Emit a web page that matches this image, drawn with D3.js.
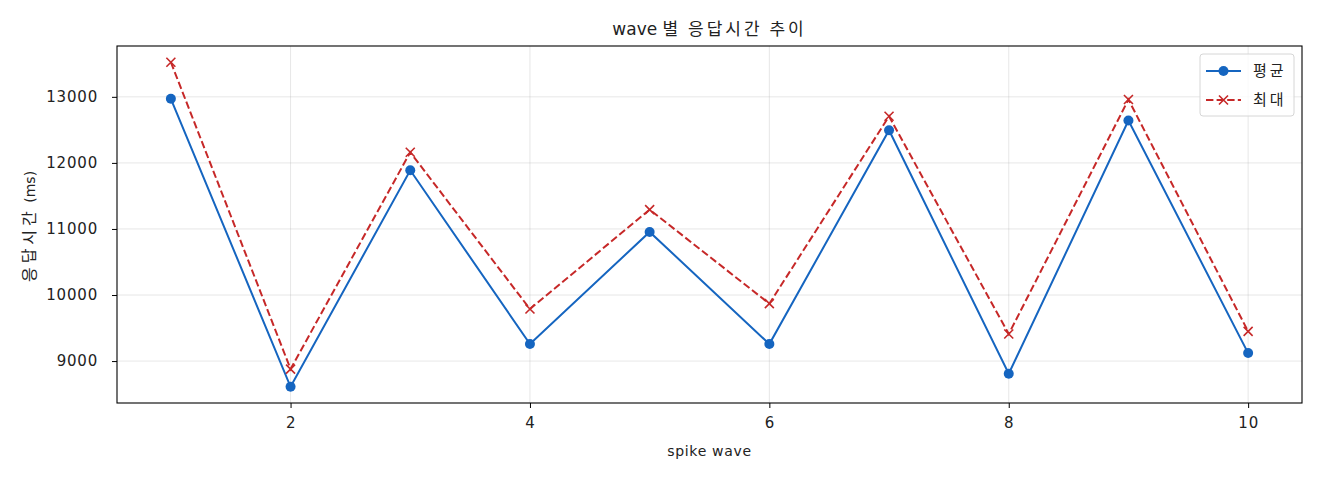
<!DOCTYPE html>
<html>
<head>
<meta charset="utf-8">
<script src="https://cdn.jsdelivr.net/npm/d3@7"></script>
<style>
  body { margin: 0; background: #fff; }
  text { font-family: "DejaVu Sans", "Noto Sans CJK KR", sans-serif; fill: #222; }
  .ko { font-family: "Noto Sans CJK KR", sans-serif; }
</style>
</head>
<body>
<div id="chart"></div>
<script>
// data
var waves = [1, 2, 3, 4, 5, 6, 7, 8, 9, 10];
var meanValues = [12970, 8611, 11888, 9258, 10955, 9258, 12494, 8808, 12641, 9121];
var maxValues = [13524, 8879, 12161, 9788, 11293, 9869, 12706, 9409, 12959, 9449];
var xTicks = [2, 4, 6, 8, 10];
var yTicks = [9000, 10000, 11000, 12000, 13000];

var svgWidth = 1320;
var svgHeight = 480;

var margin = { top: 46, right: 18, bottom: 77, left: 117 };
var width = svgWidth - margin.left - margin.right;
var height = svgHeight - margin.top - margin.bottom;

var svg = d3.select("#chart")
  .append("svg")
  .attr("width", svgWidth)
  .attr("height", svgHeight);

var chartGroup = svg.append("g")
  .attr("transform", `translate(${margin.left}, ${margin.top})`);

// scales with matplotlib-like 5% padding
var xLinearScale = d3.scaleLinear()
  .domain([0.55, 10.45])
  .range([0, width]);

var yMin = d3.min(meanValues.concat(maxValues));
var yMax = d3.max(meanValues.concat(maxValues));
var pad = (yMax - yMin) * 0.05;
var yLinearScale = d3.scaleLinear()
  .domain([yMin - pad, yMax + pad])
  .range([height, 0]);

// grid
chartGroup.append("g")
  .selectAll("line")
  .data(xTicks)
  .enter()
  .append("line")
  .attr("x1", d => xLinearScale(d))
  .attr("x2", d => xLinearScale(d))
  .attr("y1", 0)
  .attr("y2", height)
  .attr("stroke", "#b0b0b0")
  .attr("stroke-opacity", 0.3)
  .attr("stroke-width", 1);

chartGroup.append("g")
  .selectAll("line")
  .data(yTicks)
  .enter()
  .append("line")
  .attr("x1", 0)
  .attr("x2", width)
  .attr("y1", d => yLinearScale(d))
  .attr("y2", d => yLinearScale(d))
  .attr("stroke", "#b0b0b0")
  .attr("stroke-opacity", 0.3)
  .attr("stroke-width", 1);

// axes
var bottomAxis = d3.axisBottom(xLinearScale)
  .tickValues(xTicks)
  .tickFormat(d3.format("d"))
  .tickSize(5)
  .tickPadding(9);
var leftAxis = d3.axisLeft(yLinearScale)
  .tickValues(yTicks)
  .tickFormat(d3.format("d"))
  .tickSize(5)
  .tickPadding(14);

var xAxis = chartGroup.append("g")
  .attr("transform", `translate(0, ${height})`)
  .call(bottomAxis);

var yAxis = chartGroup.append("g")
  .call(leftAxis);

[xAxis, yAxis].forEach(function(ax) {
  ax.select(".domain").remove();
  ax.selectAll(".tick line").attr("stroke", "#000").attr("stroke-width", 1);
  ax.selectAll(".tick text")
    .style("font-size", "15px")
    .style("font-family", "'DejaVu Sans', sans-serif")
    .style("letter-spacing", "0.8px")
    .attr("fill", "#222");
});

// frame
chartGroup.append("rect")
  .attr("x", 0)
  .attr("y", 0)
  .attr("width", width)
  .attr("height", height)
  .attr("fill", "none")
  .attr("stroke", "#000")
  .attr("stroke-width", 1.1);

// lines
var line = d3.line()
  .x((d, i) => xLinearScale(waves[i]))
  .y(d => yLinearScale(d));

chartGroup.append("path")
  .datum(maxValues)
  .attr("d", line)
  .attr("fill", "none")
  .attr("stroke", "#c62828")
  .attr("stroke-width", 2)
  .attr("stroke-dasharray", "7.4,3.2");

chartGroup.append("path")
  .datum(meanValues)
  .attr("d", line)
  .attr("fill", "none")
  .attr("stroke", "#1565c0")
  .attr("stroke-width", 2);

// markers
chartGroup.selectAll("circle.mean")
  .data(meanValues)
  .enter()
  .append("circle")
  .attr("class", "mean")
  .attr("cx", (d, i) => xLinearScale(waves[i]))
  .attr("cy", d => yLinearScale(d))
  .attr("r", 5)
  .attr("fill", "#1565c0");

var xSize = 4.5;
chartGroup.selectAll("path.max")
  .data(maxValues)
  .enter()
  .append("path")
  .attr("class", "max")
  .attr("d", function(d, i) {
    var cx = xLinearScale(waves[i]);
    var cy = yLinearScale(d);
    return `M${cx - xSize},${cy - xSize}L${cx + xSize},${cy + xSize}M${cx - xSize},${cy + xSize}L${cx + xSize},${cy - xSize}`;
  })
  .attr("stroke", "#c62828")
  .attr("stroke-width", 1.6)
  .attr("fill", "none");

// title and labels
var title = svg.append("text")
  .attr("x", margin.left + width / 2)
  .attr("y", 35)
  .attr("text-anchor", "middle")
  .style("font-size", "17px");
title.append("tspan").text("wave ");
title.append("tspan")
  .attr("class", "ko")
  .style("letter-spacing", "3px")
  .text("별 응답시간 추이");

svg.append("text")
  .attr("x", margin.left + width / 2)
  .attr("y", 456)
  .attr("text-anchor", "middle")
  .style("font-size", "14px")
  .style("letter-spacing", "0.7px")
  .text("spike wave");

var yLabel = svg.append("text")
  .attr("transform", "rotate(-90)")
  .attr("x", -(margin.top + height / 2 + 2))
  .attr("y", 35)
  .attr("text-anchor", "middle")
  .style("font-size", "14px");
yLabel.append("tspan")
  .attr("class", "ko")
  .style("font-size", "16px")
  .style("letter-spacing", "4px")
  .text("응답시간");
yLabel.append("tspan").text(" (ms)");

// legend
var legend = svg.append("g")
  .attr("transform", "translate(1200, 54)");

legend.append("rect")
  .attr("width", 94)
  .attr("height", 62)
  .attr("rx", 3)
  .attr("fill", "#fff")
  .attr("fill-opacity", 0.8)
  .attr("stroke", "#d6d6d6")
  .attr("stroke-width", 1);

legend.append("line")
  .attr("x1", 6).attr("x2", 41)
  .attr("y1", 17).attr("y2", 17)
  .attr("stroke", "#1565c0")
  .attr("stroke-width", 2);

legend.append("circle")
  .attr("cx", 23.5).attr("cy", 17).attr("r", 5)
  .attr("fill", "#1565c0");

legend.append("line")
  .attr("x1", 6).attr("x2", 41)
  .attr("y1", 46).attr("y2", 46)
  .attr("stroke", "#c62828")
  .attr("stroke-width", 2)
  .attr("stroke-dasharray", "7.4,3.2");

legend.append("path")
  .attr("d", `M${23.5 - xSize},${46 - xSize}L${23.5 + xSize},${46 + xSize}M${23.5 - xSize},${46 + xSize}L${23.5 + xSize},${46 - xSize}`)
  .attr("stroke", "#c62828")
  .attr("stroke-width", 1.6);

legend.append("text")
  .attr("class", "ko")
  .attr("x", 53).attr("y", 22)
  .style("font-size", "15px")
  .style("letter-spacing", "3px")
  .text("평균");

legend.append("text")
  .attr("class", "ko")
  .attr("x", 53).attr("y", 51)
  .style("font-size", "15px")
  .style("letter-spacing", "3px")
  .text("최대");
</script>
</body>
</html>
